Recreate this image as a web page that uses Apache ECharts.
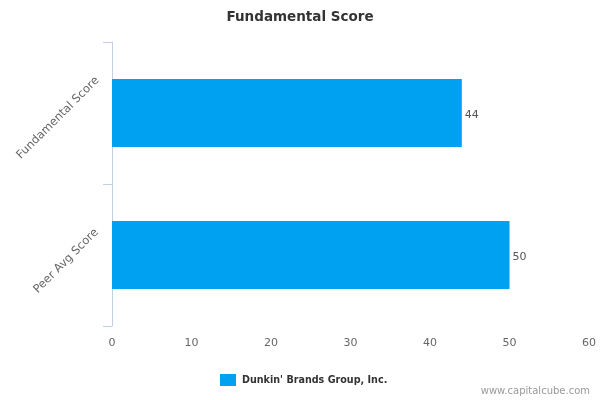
<!DOCTYPE html>
<html>
<head>
<meta charset="utf-8">
<script src="https://cdn.jsdelivr.net/npm/echarts@6/dist/echarts.min.js"></script>
<style>html,body{margin:0;padding:0;background:#fff}#c{width:600px;height:400px}</style>
</head>
<body>
<div id="c"></div>
<script>
var categories = ['Fundamental Score', 'Peer Avg Score'];
var values = [44, 50];
var xTicks = [0, 10, 20, 30, 40, 50, 60];
var seriesName = "Dunkin' Brands Group, Inc.";
var titleText = 'Fundamental Score';
var creditText = 'www.capitalcube.com';

var FONT = 'DejaVu Sans';
var chart = echarts.init(document.getElementById('c'), null, {renderer: 'canvas'});
chart.setOption({
  animation: false,
  textStyle: {fontFamily: FONT},
  title: [
    {text: titleText, left: 'center', top: 5,
     textStyle: {fontFamily: FONT, fontSize: 13.5, fontWeight: 'bold', color: '#333'}},
    {text: creditText, right: 10, top: 386, padding: 0,
     textStyle: {fontFamily: FONT, fontSize: 10, fontWeight: 'normal', color: '#999'}}
  ],
  legend: {
    left: 220, top: 374, itemWidth: 16, itemHeight: 12, itemGap: 10, padding: 0,
    icon: 'rect',
    textStyle: {fontFamily: FONT, fontSize: 9.6, fontWeight: 'bold', color: '#333', padding: [0, 0, 0, 1]},
    data: [seriesName]
  },
  grid: {left: 112, right: 11, top: 42, bottom: 74, containLabel: false},
  xAxis: {
    type: 'value', min: xTicks[0], max: xTicks[xTicks.length - 1], interval: 10,
    axisLine: {show: false}, axisTick: {show: false}, splitLine: {show: false},
    axisLabel: {fontFamily: FONT, fontSize: 11, color: '#666', margin: 12}
  },
  yAxis: {
    type: 'category', inverse: true, data: categories,
    axisLine: {show: true, lineStyle: {color: '#C0D0E0', width: 1}},
    axisTick: {show: true, length: 9, lineStyle: {color: '#C0D0E0'}},
    axisLabel: {
      fontFamily: FONT, fontSize: 11.5, color: '#666', rotate: 45, align: 'center', margin: 54,
      formatter: function (v, i) { return '{l' + i + '|' + v + '}'; },
      rich: {
        l0: {fontFamily: FONT, fontSize: 11.5, color: '#666', padding: [7, 7, 0, 0]},
        l1: {fontFamily: FONT, fontSize: 11.5, color: '#666', padding: [20, 0, 0, 3]}
      }
    }
  },
  series: [{
    name: seriesName, type: 'bar', data: values, barWidth: '48%',
    itemStyle: {color: '#00A1F1'},
    label: {show: true, position: 'right', distance: 3, offset: [0, 2], fontFamily: FONT, fontSize: 11, color: '#555'}
  }]
});
</script>
</body>
</html>
